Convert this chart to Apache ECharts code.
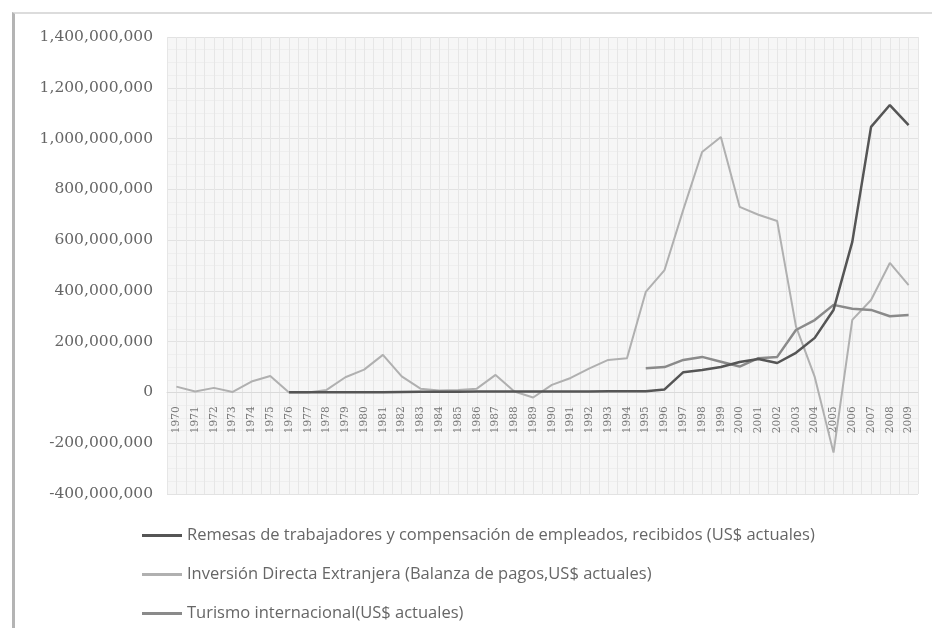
<!DOCTYPE html>
<html>
<head>
<meta charset="utf-8">
<script src="https://cdn.jsdelivr.net/npm/echarts@6/dist/echarts.min.js"></script>
<style>
  html, body { margin: 0; padding: 0; background: #fff; }
  #frame {
    position: absolute; left: 12px; top: 12px; width: 940px; height: 640px;
    border-left: 3px solid #b4b4b4; border-top: 2px solid #dcdcdc;
  }
  #chart { position: absolute; left: 0; top: 0; width: 932px; height: 628px; }
</style>
</head>
<body>
<div id="frame"></div>
<div id="chart"></div>
<script>
// años 1970-2009
const years = [];
for (let y = 1970; y <= 2009; y++) years.push(String(y));

const yTicks = { min: -400000000, max: 1400000000, step: 200000000 };

// Remesas de trabajadores (USD), empieza en 1976
const remesas = [
  null, null, null, null, null, null,
  1e6, 1e6, 1e6, 1e6, 1e6, 1e6, 2e6, 3e6, 3e6, 3e6, 4e6, 4e6, 4e6, 4e6,
  4e6, 4e6, 4e6, 5e6, 5e6, 5e6, 12e6, 80e6, 88e6, 100e6,
  120e6, 132e6, 116e6, 156e6, 215e6, 325e6, 593e6, 1046e6, 1132e6, 1053e6
];

// Inversión Directa Extranjera (USD)
const ide = [
  23e6, 4e6, 18e6, 2e6, 43e6, 65e6, 0, 0, 10e6, 60e6,
  90e6, 148e6, 63e6, 15e6, 8e6, 10e6, 15e6, 69e6, 4e6, -20e6,
  30e6, 57e6, 95e6, 128e6, 135e6, 396e6, 482e6, 720e6, 947e6, 1006e6,
  731e6, 700e6, 675e6, 260e6, 61e6, -237e6, 286e6, 364e6, 510e6, 423e6
];

// Turismo internacional (USD), empieza en 1995
const turismo = [
  null, null, null, null, null, null, null, null, null, null,
  null, null, null, null, null, null, null, null, null, null,
  null, null, null, null, null, 95e6, 100e6, 128e6, 140e6, 121e6,
  102e6, 135e6, 140e6, 246e6, 285e6, 345e6, 330e6, 325e6, 300e6, 305e6
];

const names = [
  "Remesas de trabajadores y compensación de empleados, recibidos (US$ actuales)",
  "Inversión Directa Extranjera (Balanza de pagos,US$ actuales)",
  "Turismo internacional(US$ actuales)"
];

const gridBox = { left: 167, right: 14, top: 37, bottom: 134 };
const plotHeight = 628 - gridBox.top - gridBox.bottom;
// el eje de categorías se dibuja sobre la línea del cero
const zeroOffset = -plotHeight * (0 - yTicks.min) / (yTicks.max - yTicks.min);

const chart = echarts.init(document.getElementById("chart"));

const option = {
  animation: false,
  color: ["#555555", "#b0b0b0", "#8a8a8a"],
  grid: {
    left: gridBox.left, right: gridBox.right, top: gridBox.top, bottom: gridBox.bottom,
    show: true, backgroundColor: "#f6f6f6", borderWidth: 0
  },
  legend: {
    orient: "vertical",
    left: 142,
    top: 527,
    padding: 0,
    icon: "rect",
    itemWidth: 40,
    itemHeight: 3,
    itemGap: 22,
    data: names,
    textStyle: {
      color: "#666",
      fontFamily: "Open Sans",
      fontSize: 16.5,
      lineHeight: 16
    }
  },
  xAxis: [
    {
      type: "category",
      data: years,
      boundaryGap: true,
      offset: zeroOffset,
      axisLine: { onZero: false, lineStyle: { color: "#dadada" } },
      axisTick: { show: false },
      axisLabel: {
        interval: 0,
        rotate: 90,
        fontSize: 10.5,
        color: "#777",
        fontFamily: "DejaVu Serif",
        margin: 14
      },
      splitLine: { show: false }
    },
    {
      // solo para la trama de la rejilla vertical
      type: "value",
      min: 0, max: 80, interval: 1,
      position: "top",
      axisLine: { show: false, onZero: false },
      axisTick: { show: false },
      axisLabel: { show: false },
      splitLine: { show: true, lineStyle: { color: "#e6e6e6", width: 1 } }
    }
  ],
  yAxis: {
    type: "value",
    min: yTicks.min,
    max: yTicks.max,
    interval: yTicks.step,
    axisLine: { show: false },
    axisTick: { show: false },
    axisLabel: {
      color: "#666",
      fontSize: 15.5,
      fontFamily: "DejaVu Serif",
      margin: 14,
      formatter: function (v) { return v.toLocaleString("en-US"); }
    },
    splitLine: { lineStyle: { color: "#e2e2e2", width: 1 } },
    minorTick: { show: false, splitNumber: 4 },
    minorSplitLine: { show: true, lineStyle: { color: "#eeeeee", width: 1 } }
  },
  series: [
    {
      name: names[0], type: "line", data: remesas,
      symbol: "none", lineStyle: { width: 2.5, color: "#555555" }, z: 4
    },
    {
      name: names[1], type: "line", data: ide,
      symbol: "none", lineStyle: { width: 2, color: "#b0b0b0" }, z: 3
    },
    {
      name: names[2], type: "line", data: turismo,
      symbol: "none", lineStyle: { width: 2.5, color: "#8a8a8a" }, z: 3
    }
  ]
};

chart.setOption(option);
</script>
</body>
</html>
